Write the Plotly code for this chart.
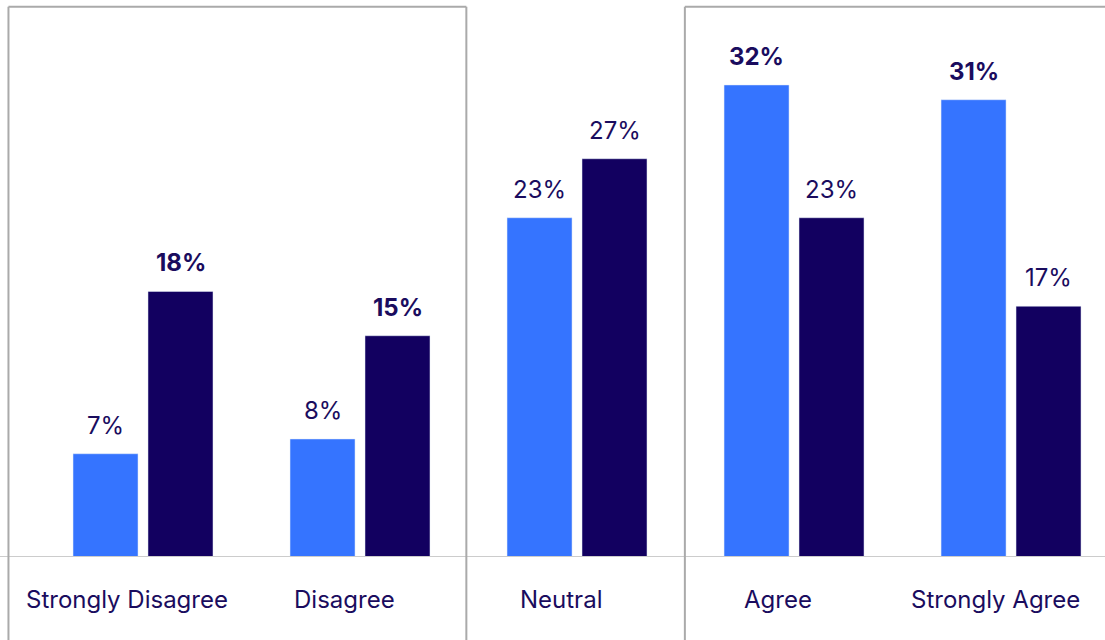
import plotly.graph_objects as go

categories = ["Strongly Disagree", "Disagree", "Neutral", "Agree", "Strongly Agree"]
series_a = [7, 8, 23, 32, 31]
series_b = [18, 15, 27, 23, 17]
bold_a = [False, False, False, True, True]
bold_b = [True, True, False, False, False]

BLUE = "#3574FF"
NAVY = "#120060"
TEXT = "#1a0c5e"
FONT = "Inter"

idx = list(range(len(categories)))

fig = go.Figure()
fig.add_trace(go.Bar(x=idx, y=series_a, marker_color=BLUE, name="A"))
fig.add_trace(go.Bar(x=idx, y=series_b, marker_color=NAVY, name="B"))

ann = []
for i in idx:
    for vals, bolds, sh in ((series_a, bold_a, -37.5), (series_b, bold_b, 37.5)):
        v = vals[i]
        t = f"{v}%"
        if bolds[i]:
            t = f"<b>{t}</b>"
        ann.append(dict(x=i, y=v, xref="x", yref="y", text=t, showarrow=False,
                        xshift=sh, yshift=12, yanchor="bottom",
                        font=dict(family=FONT, size=24, color=TEXT)))
    ann.append(dict(x=i, y=0, xref="x", yref="paper", text=categories[i], showarrow=False,
                    xshift=-16, yshift=-42, yanchor="middle",
                    font=dict(family=FONT, size=24, color=TEXT)))

GRAY = "#aaaaaa"
shapes = [
    dict(type="line", xref="paper", yref="y", x0=0, x1=1, y0=0, y1=0,
         line=dict(color="#cccccc", width=2)),
    # left box
    dict(type="line", xref="x", yref="paper", x0=-0.62, x1=-0.62, y0=-0.2, y1=0.988,
         line=dict(color=GRAY, width=2)),
    dict(type="line", xref="x", yref="paper", x0=-0.62, x1=1.49, y0=0.988, y1=0.988,
         line=dict(color=GRAY, width=2)),
    dict(type="line", xref="x", yref="paper", x0=1.49, x1=1.49, y0=-0.2, y1=0.988,
         line=dict(color=GRAY, width=2)),
    # right box
    dict(type="line", xref="x", yref="paper", x0=2.497, x1=2.497, y0=-0.2, y1=0.988,
         line=dict(color=GRAY, width=2)),
    dict(type="line", xref="x", yref="paper", x0=2.497, x1=4.6, y0=0.988, y1=0.988,
         line=dict(color=GRAY, width=2)),
]

fig.update_layout(
    width=1105, height=640,
    margin=dict(l=0, r=0, t=0, b=83),
    paper_bgcolor="white", plot_bgcolor="white",
    barmode="group", bargap=0.309, bargroupgap=0.133,
    showlegend=False,
    xaxis=dict(range=[-0.659, 4.433], showticklabels=False, showgrid=False,
               zeroline=False, showline=False, fixedrange=True),
    yaxis=dict(range=[0, 37.76], showticklabels=False, showgrid=False,
               zeroline=False, showline=False, fixedrange=True),
    annotations=ann,
    shapes=shapes,
)

fig.write_html("out.html", config={"displayModeBar": False})
